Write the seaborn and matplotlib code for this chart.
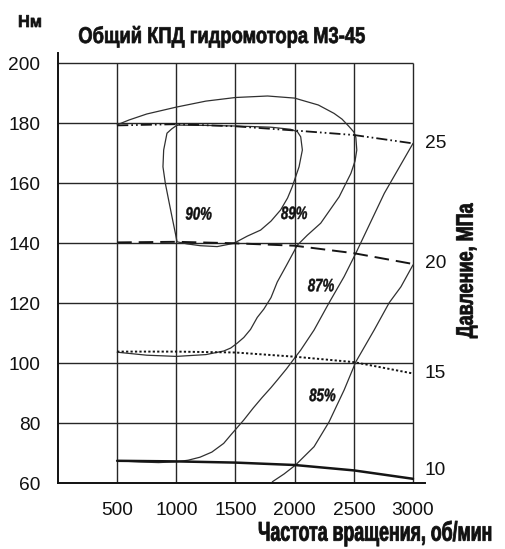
import matplotlib
matplotlib.use("Agg")
import matplotlib.pyplot as plt
import seaborn as sns
from matplotlib.patheffects import AbstractPathEffect
from matplotlib.transforms import Affine2D, ScaledTranslation, blended_transform_factory

# ---------------- data ----------------
speed_grid = [500, 1000, 1500, 2000, 2500, 3000]
torque_grid = [60, 80, 100, 120, 140, 160, 180, 200]

# torque [Nm] along constant-pressure lines
pressure_labels = ["25", "20", "15", "10"]
pressure_speed = [500, 1000, 1500, 2000, 2500, 3000]
torque_25mpa = [179.2, 179.6, 178.9, 177.5, 176.0, 173.2]
torque_20mpa = [140.2, 140.4, 139.9, 139.1, 136.6, 133.0]
torque_15mpa = [103.8, 103.8, 103.5, 102.1, 100.3, 96.5]
torque_10mpa = [67.4, 67.2, 66.8, 66.0, 64.2, 61.4]

# overall efficiency contours
eff90_speed = [1006, 960, 921, 893, 887, 907, 935, 963, 992, 1006, 1091, 1203,
               1345, 1486, 1600, 1712, 1800, 1881, 1940, 1980, 2037, 2065, 2051,
               2023, 1966, 1800, 1500, 1250, 1006]
eff90_torque = [179.3, 178.0, 176.6, 171.0, 165.4, 159.9, 154.3, 148.8, 143.2,
                140.4, 139.7, 139.1, 138.8, 139.9, 142.3, 144.3, 147.3, 151.0,
                155.0, 158.8, 165.4, 171.0, 175.4, 177.1, 177.9, 178.6, 179.0,
                179.2, 179.3]

eff89_speed = [500, 600, 750, 1000, 1250, 1500, 1771, 2000, 2051, 2200, 2333,
               2400, 2460, 2500, 2517, 2525, 2510, 2475, 2376, 2220, 2107, 2023,
               1930, 1853, 1800, 1740, 1684, 1627, 1570, 1514, 1460, 1401, 1250,
               1000, 750, 500]
eff89_torque = [179.4, 181.0, 183.0, 185.3, 187.3, 188.5, 189.0, 188.3, 187.7,
                186.0, 183.2, 181.3, 178.8, 177.0, 175.2, 171.0, 167.3, 163.2,
                155.4, 146.6, 142.6, 139.3, 132.5, 127.0, 121.8, 118.0, 115.2,
                111.2, 108.5, 106.6, 105.0, 104.0, 102.8, 102.2, 102.6, 103.6]

eff87_speed = [500, 700, 850, 1006, 1100, 1200, 1300, 1400, 1460, 1515, 1570,
               1650, 1725, 1800, 1853, 1930, 2008, 2051, 2164, 2291, 2418, 2517,
               2758, 3000]
eff87_torque = [67.4, 67.0, 66.8, 67.1, 67.6, 68.6, 70.3, 73.2, 76.0, 78.5, 81.0,
                85.0, 88.5, 91.8, 94.3, 98.0, 102.1, 104.3, 111.0, 120.1, 128.8,
                136.6, 156.6, 173.2]

eff85_speed = [1811, 1910, 2008, 2051, 2164, 2291, 2418, 2517, 2672, 2799, 2898, 3000]
eff85_torque = [60.4, 63.0, 66.0, 67.7, 72.1, 80.4, 91.0, 100.4, 111.0, 120.1, 125.4, 132.7]

eff_labels = ["90%", "89%", "87%", "85%"]
eff_label_speed = [1189, 1996, 2223, 2235]
eff_label_torque = [149.9, 150.1, 126.0, 89.4]


# ---------------- helpers ----------------
class Tall(AbstractPathEffect):
    """Stretch glyph outlines away from the baseline and optionally embolden them."""

    def __init__(self, sy=1.0, stroke=0.0):
        super().__init__()
        self.sy = sy
        self.stroke = stroke

    def draw_path(self, renderer, gc, tpath, affine, rgbFace=None):
        tr = Affine2D().scale(1.0, self.sy) + affine
        if self.stroke > 0 and rgbFace is not None:
            gc0 = renderer.new_gc()
            gc0.copy_properties(gc)
            gc0.set_linewidth(self.stroke)
            gc0.set_foreground(rgbFace)
            gc0.set_joinstyle("round")
            renderer.draw_path(gc0, tpath, tr, rgbFace)
            gc0.restore()
        else:
            renderer.draw_path(gc, tpath, tr, rgbFace)


CAP = 0.70  # cap height of Liberation Sans as a fraction of the em


def fit_text(text, length_px, cap_px, stroke=0.0):
    renderer = fig.canvas.get_renderer()
    rotated = text.get_rotation() % 180 == 90
    for _ in range(3):
        bb = text.get_window_extent(renderer)
        span = bb.height if rotated else bb.width
        text.set_fontsize(text.get_fontsize() * length_px / span)
    em_px = text.get_fontsize() * fig.dpi / 72
    text.set_path_effects([Tall(cap_px / (CAP * em_px), stroke)])


# ---------------- figure ----------------
sns.set_style("white")
plt.rcParams["font.family"] = ["Liberation Sans", "DejaVu Sans"]
plt.rcParams["lines.scale_dashes"] = False

W, H = 506, 549
fig = plt.figure(figsize=(W / 100, H / 100), dpi=100)
ax = fig.add_axes([58 / W, 66 / H, 367 / W, 430 / H])
ax.set_xlim(0, 3000 * 367 / 355)
ax.set_ylim(60, 60 + 430 / 3)

grid_kw = dict(color="#262626", linewidth=1.0, zorder=1)
ax.hlines(torque_grid[1:], 0, speed_grid[-1], **grid_kw)
ax.vlines(speed_grid, torque_grid[0], torque_grid[-1], **grid_kw)

for side in ("top", "right"):
    ax.spines[side].set_visible(False)
for side in ("left", "bottom"):
    ax.spines[side].set_color("#111111")
    ax.spines[side].set_linewidth(1.4)

ax.set_xticks(speed_grid)
ax.set_xticklabels([str(v) for v in speed_grid])
ax.set_yticks(torque_grid)
ax.set_yticklabels([str(v) for v in torque_grid])
ax.tick_params(axis="x", length=0, pad=13.5, labelsize=13.8, colors="#111111")
ax.tick_params(axis="y", length=2.4, width=0.9, pad=10.5, labelsize=13.8,
               colors="#111111", direction="out")
ax.set_xlabel("")
ax.set_ylabel("")

# constant-pressure lines
line_kw = dict(ax=ax, sort=False, estimator=None, color="#151515", zorder=3)
sns.lineplot(x=pressure_speed, y=torque_25mpa, linewidth=1.3,
             linestyle=(0, (8, 2.2, 1.2, 2.2, 1.2, 2.2)), **line_kw)
sns.lineplot(x=pressure_speed, y=torque_20mpa, linewidth=1.4,
             linestyle=(0, (10.5, 5)), **line_kw)
sns.lineplot(x=pressure_speed, y=torque_15mpa, linewidth=1.4,
             linestyle=(0, (1.6, 1.6)), **line_kw)
sns.lineplot(x=pressure_speed, y=torque_10mpa, linewidth=1.8,
             linestyle="-", **line_kw)

# efficiency contours
curve_kw = dict(ax=ax, sort=False, estimator=None, color="#303030",
                linewidth=0.9, zorder=2)
sns.lineplot(x=eff90_speed, y=eff90_torque, **curve_kw)
sns.lineplot(x=eff89_speed, y=eff89_torque, **curve_kw)
sns.lineplot(x=eff87_speed, y=eff87_torque, **curve_kw)
sns.lineplot(x=eff85_speed, y=eff85_torque, **curve_kw)

# efficiency labels: baseline half a cap height below the label centre
drop = ax.transData + ScaledTranslation(0, -6.3 / 100, fig.dpi_scale_trans)
eff_texts = []
for lab, sx_, ty in zip(eff_labels, eff_label_speed, eff_label_torque):
    eff_texts.append(ax.text(sx_, ty, lab, transform=drop, ha="center",
                             va="baseline", fontsize=10, fontweight="bold",
                             fontstyle="italic", color="#111111", zorder=4))

# pressure scale labels at the right-hand ends of the lines
right = blended_transform_factory(ax.transAxes, ax.transData)
ends = [torque_25mpa[-1], torque_20mpa[-1], torque_15mpa[-1], torque_10mpa[-1]]
for i, (lab, ty) in enumerate(zip(pressure_labels, ends)):
    ax.text(1.0, ty, lab, transform=right, ha="left",
            va="bottom" if i == len(ends) - 1 else "center",
            fontsize=13.8, color="#111111", clip_on=False)

# headings
title = fig.text(221.7 / W, 1 - 43 / H, "Общий КПД гидромотора М3-45",
                 ha="center", va="baseline", fontsize=12, fontweight="bold",
                 color="#111111")
unit = fig.text(30 / W, 1 - 27 / H, "Нм", ha="center", va="baseline",
                fontsize=12, fontweight="bold", color="#111111")
xlab = fig.text(375.5 / W, 1 - 540.7 / H, "Частота вращения, об/мин",
                ha="center", va="baseline", fontsize=12, fontweight="bold",
                color="#111111")
ylab = fig.text(472.7 / W, 1 - 270.8 / H, "Давление, МПа", rotation=90,
                rotation_mode="anchor", ha="center", va="baseline",
                fontsize=12, fontweight="bold", color="#111111")

fit_text(title, 287, 16, stroke=0.5)
fit_text(unit, 24, 12, stroke=0.5)
fit_text(xlab, 235, 19, stroke=0.6)
fit_text(ylab, 135, 16.7, stroke=0.6)
for t in eff_texts:
    fit_text(t, 26.5, 12.6, stroke=0.3)

fig.savefig("out.png", dpi=100)
